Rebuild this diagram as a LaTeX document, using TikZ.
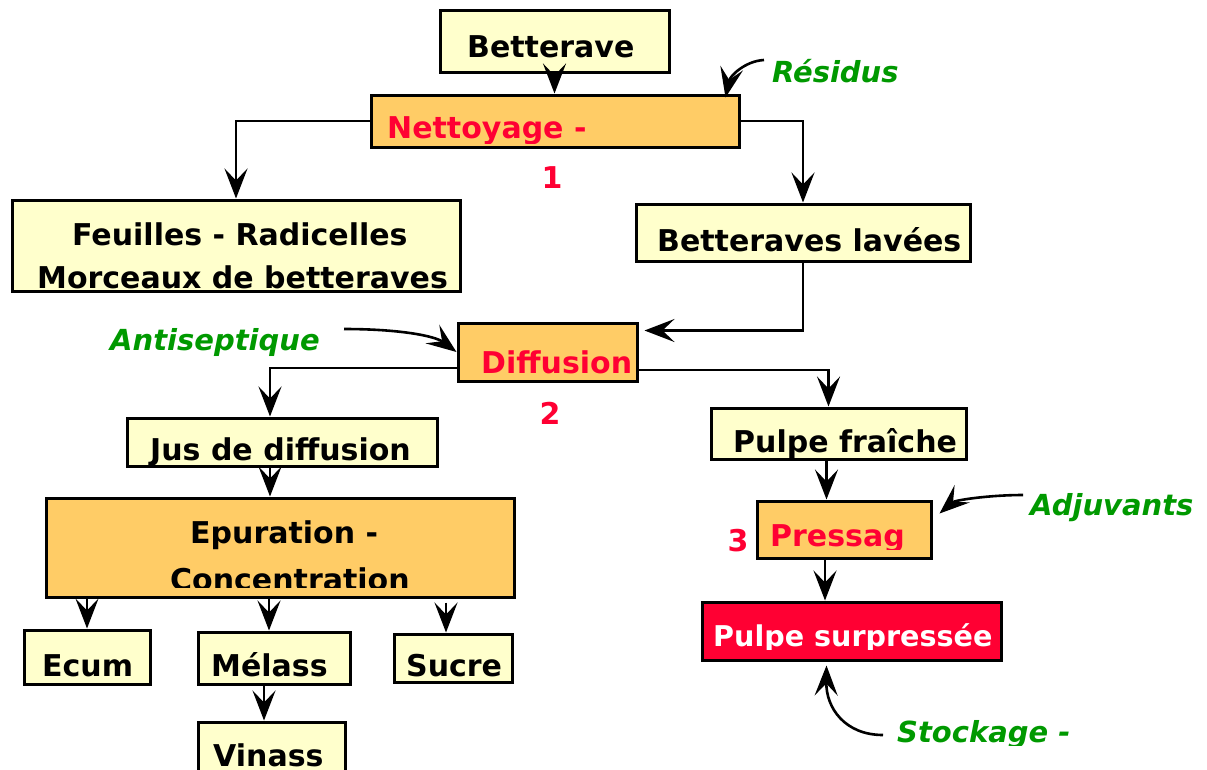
\documentclass[tikz,border=0pt]{standalone}
\usepackage{fontspec}
\setmainfont{DejaVu Sans}
\usetikzlibrary{fit,arrows.meta}
\definecolor{boxyellow}{HTML}{FFFFCC}
\definecolor{boxorange}{HTML}{FFCC66}
\definecolor{procred}{HTML}{FF0033}
\definecolor{labgreen}{HTML}{009900}
\tikzset{
  basebox/.style={draw=black, line width=3pt, inner sep=0pt},
  ybox/.style={basebox, fill=boxyellow},
  obox/.style={basebox, fill=boxorange},
  rbox/.style={basebox, fill=procred},
  txt/.style={font=\bfseries\fontsize{30}{36}\selectfont, inner sep=0pt, anchor=base west},
  btxt/.style={txt, text=black},
  rtxt/.style={txt, text=procred},
  wtxt/.style={txt, text=white, font=\bfseries\fontsize{28.6}{34}\selectfont},
  gtxt/.style={txt, text=labgreen, font=\bfseries\itshape\fontsize{29}{34}\selectfont},
  conn/.style={line width=2.6pt, -{Stealth[length=30pt,width=23pt,inset=12pt]}},
}
\begin{document}
\begin{tikzpicture}[x=1pt,y=-1pt]
\useasboundingbox (0,0) rectangle (1207,769);
% boxes
\node[ybox, fit={(440,10)(669,72)}] (bet) {};
\node[obox, fit={(371,95)(739,147)}] (net) {};
\node[ybox, fit={(12,200)(460,291)}] (feu) {};
\node[ybox, fit={(636,204)(970,261)}] (lav) {};
\node[obox, fit={(458,323)(637,381)}] (dif) {};
\node[ybox, fit={(127,418)(437,466)}] (jus) {};
\node[ybox, fit={(711,408)(966,459)}] (pf) {};
\node[obox, fit={(46,498)(514,597)}] (epu) {};
\node[obox, fit={(757,501)(931,558)}] (pre) {};
\node[rbox, fit={(702,602)(1001,660)}] (ps) {};
\node[ybox, fit={(24,630)(150,684)}] (ecu) {};
\node[ybox, fit={(198,632)(350,684)}] (mel) {};
\node[ybox, fit={(394,634)(512,682)}] (suc) {};
\node[ybox, fit={(198,722)(345,785)}] (vin) {};
% texts
\node[btxt] (tbet) at (467,57) {Betterave};
\begin{scope}\clip (373,97) rectangle (737,143);
\node[rtxt] (tnet) at (387,138) {Nettoyage -};
\end{scope}
\node[rtxt, anchor=center] (n1) at (552,178) {1};
\node[gtxt] (tres) at (772,82) {Résidus};
\node[btxt] (tfeu1) at (72,245) {Feuilles - Radicelles};
\begin{scope}\clip (14,202) rectangle (458,289);
\node[btxt] (tfeu2) at (37,288) {Morceaux de betteraves};
\end{scope}
\node[btxt] (tlav) at (657,251) {Betteraves lavées};
\node[gtxt] (tant) at (110,350) {Antiseptique};
\node[rtxt] (tdif) at (481,373) {Diffusion};
\node[rtxt, anchor=center] (n2) at (550,413) {2};
\node[btxt] (tjus) at (150,460) {Jus de diffusion};
\begin{scope}\clip (713,410) rectangle (964,457);
\node[btxt] (tpf) at (733,452) {Pulpe fraîche};
\end{scope}
\node[btxt] (tepu1) at (190,543) {Epuration -};
\begin{scope}\clip (48,500) rectangle (512,587);
\node[btxt] (tepu2) at (170,590) {Concentration};
\end{scope}
\begin{scope}\clip (759,503) rectangle (929,549);
\node[rtxt] (tpre) at (770,546) {Pressag};
\end{scope}
\node[rtxt, anchor=center] (n3) at (738,541) {3};
\node[gtxt] (tadj) at (1030,515) {Adjuvants};
\begin{scope}\clip (704,604) rectangle (999,649);
\node[wtxt] (tps) at (713,646) {Pulpe surpressée};
\end{scope}
\node[btxt] (tecu) at (42,676) {Ecum};
\node[btxt] (tmel) at (211,676) {Mélass};
\node[btxt] (tsuc) at (406,676) {Sucre};
\begin{scope}\clip (200,724) rectangle (343,767);
\node[btxt] (tvin) at (213,766) {Vinass};
\end{scope}
\begin{scope}\clip (880,700) rectangle (1100,745);
\node[gtxt] (tsto) at (897,742) {Stockage -};
\end{scope}
% free ends of curved arrows
\coordinate (resS) at (764,60);
\coordinate (antS) at (344,329);
\coordinate (adjS) at (1023,495);
\coordinate (stoS) at (883,735);
% connectors
\draw[conn] (bet.south) -- (net.north -| bet.south);
\draw[conn] (net.west) -| (feu.north);
\draw[conn] (net.east) -| (lav.north);
\draw[conn] (lav.south) |- ([xshift=6pt,yshift=-9pt]dif.north east);
\draw[conn] ([yshift=-16pt]dif.west) -| ([xshift=-12pt]jus.north);
\draw[conn] ([yshift=-18pt]dif.east) -| ([xshift=-10pt]pf.north);
\draw[conn] ([xshift=-12pt]jus.south) -- ([xshift=-12pt]jus.south |- epu.north);
\draw[conn] (ecu.north |- epu.south) -- (ecu.north);
\draw[conn] ([xshift=-5pt]mel.north |- epu.south) -- ([xshift=-5pt]mel.north);
\draw[conn] ([xshift=-7pt,yshift=-4pt]suc.north |- epu.south) -- ([xshift=-7pt]suc.north);
\draw[conn] ([xshift=-10pt]mel.south) -- ([xshift=-10pt]mel.south |- vin.north);
\draw[conn] ([xshift=-12pt]pf.south) -- ([xshift=-12pt]pf.south |- pre.north);
\draw[conn] ([xshift=-19pt]pre.south) -- ([xshift=-19pt]pre.south |- ps.north);
\draw[conn] (resS) .. controls (745,61) and (730,76) .. ([xshift=-15pt,yshift=-4pt]net.north east);
\draw[conn] (antS) .. controls (400,329) and (435,336) .. (dif.west);
\draw[conn] (adjS) .. controls (990,495) and (955,500) .. ([xshift=7pt,yshift=-14pt]pre.north east);
\draw[conn] (stoS) .. controls (845,735) and (826,708) .. ([xshift=-25pt,yshift=-4pt]ps.south);
\end{tikzpicture}
\end{document}
